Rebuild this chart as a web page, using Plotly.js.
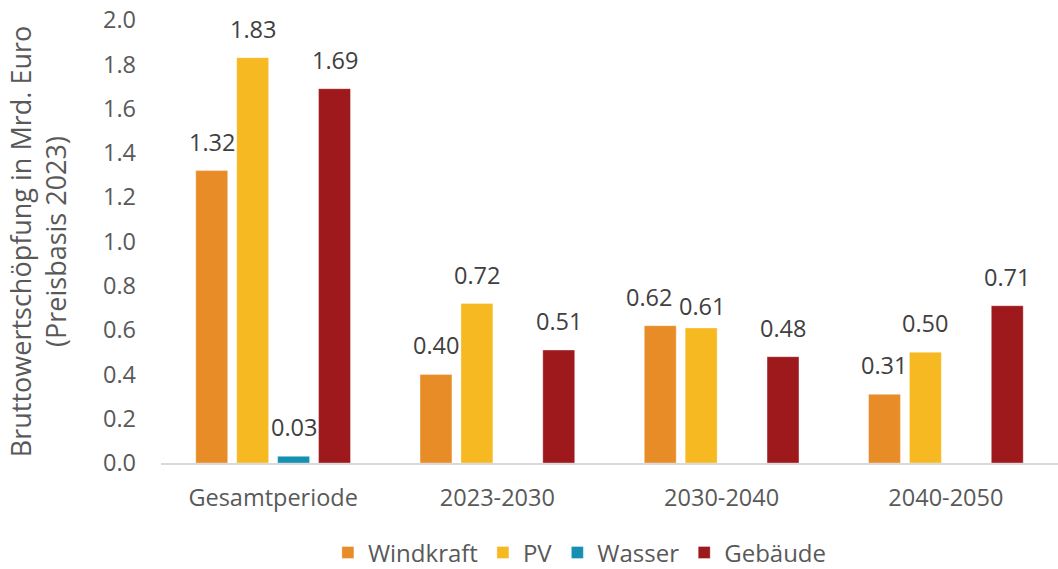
<!DOCTYPE html>
<html>
<head>
<meta charset="utf-8">
<script src="https://cdn.plot.ly/plotly-3.0.1.min.js"></script>
<style>html,body{margin:0;padding:0;background:#fff;}#chart{width:1058px;height:569px;}</style>
</head>
<body>
<div id="chart"></div>
<script>
const categories = ["Gesamtperiode", "2023-2030", "2030-2040", "2040-2050"];
const windkraft = [1.32, 0.40, 0.62, 0.31];
const pv = [1.83, 0.72, 0.61, 0.50];
const wasser = [0.03, null, null, null];
const gebaeude = [1.69, 0.51, 0.48, 0.71];
const seriesNames = ["Windkraft", "PV", "Wasser", "Gebäude"];
const seriesColors = ["#E88C28", "#F6B921", "#1590B0", "#9E191C"];
const yTitle = "Bruttowertschöpfung in Mrd. Euro<br>(Preisbasis 2023)";

const FONT = "Open Sans, Noto Sans, sans-serif";
const W = 1058, H = 569;
const M = {l: 161, r: 0, t: 20, b: 106};
const BARGAP = 0.27, BARGROUPGAP = 0.22;
// small label nudges (pixels) to keep neighbouring labels apart, as in the original
const labelNudge = {"2030-2040": {0: {dx: -11, dy: 0}, 1: {dx: 1, dy: -7}}};
const allValues = [windkraft, pv, wasser, gebaeude];

const traces = allValues.map((vals, i) => ({
  type: "bar",
  name: seriesNames[i],
  x: categories,
  y: vals,
  marker: {color: seriesColors[i], line: {width: 1, color: "rgba(255,255,255,0.35)"}},
  hoverinfo: "none"
}));

const plotW = W - M.l - M.r;
const slotPx = plotW / categories.length * (1 - BARGAP) / allValues.length;
const annotations = [];
allValues.forEach((vals, i) => {
  vals.forEach((v, j) => {
    if (v === null) return;
    const n = (labelNudge[categories[j]] || {})[i] || {dx: 0, dy: 0};
    annotations.push({
      x: categories[j], y: v, xref: "x", yref: "y",
      text: v.toFixed(2), showarrow: false,
      xanchor: "center", yanchor: "bottom",
      xshift: (i - (allValues.length - 1) / 2) * slotPx + n.dx,
      yshift: 11 + n.dy,
      font: {family: FONT, size: 23.5, color: "#404040"}
    });
  });
});

const layout = {
  width: W, height: H,
  margin: Object.assign({autoexpand: false}, M),
  paper_bgcolor: "#ffffff",
  plot_bgcolor: "#ffffff",
  font: {family: FONT, color: "#595959", size: 23.5},
  barmode: "group",
  bargap: BARGAP,
  bargroupgap: BARGROUPGAP,
  showlegend: true,
  legend: {
    orientation: "h",
    x: 0.467, xanchor: "center",
    y: -0.203, yanchor: "middle",
    font: {family: FONT, size: 24, color: "#595959"},
    itemwidth: 30,
    traceorder: "normal"
  },
  annotations: annotations,
  xaxis: {
    type: "category",
    showline: true, linecolor: "#D9D9D9", linewidth: 2,
    showgrid: false, zeroline: false,
    ticks: "", ticklabelstandoff: 13,
    tickfont: {family: FONT, size: 23.5, color: "#595959"}
  },
  yaxis: {
    range: [0, 2], dtick: 0.2, tickformat: ".1f",
    showgrid: false, zeroline: false, showline: false,
    ticks: "", ticklabelstandoff: 24,
    tickfont: {family: FONT, size: 23.5, color: "#595959"},
    title: {text: yTitle, font: {family: FONT, size: 27, color: "#595959"}, standoff: 28}
  }
};

Plotly.newPlot("chart", traces, layout, {displayModeBar: false, staticPlot: true});
</script>
</body>
</html>
